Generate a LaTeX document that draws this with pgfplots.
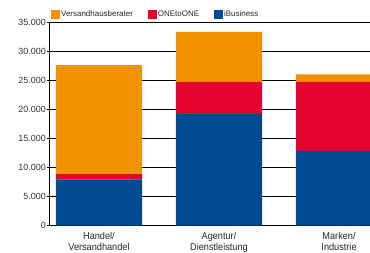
\documentclass[border=0pt]{standalone}
\usepackage{fontspec}
\setmainfont{Liberation Sans}
\newfontfamily\narrowfont{Liberation Sans}[FakeStretch=0.92]
\usepackage{pgfplots}
\pgfplotsset{compat=1.18}
\definecolor{vorange}{HTML}{F39200}
\definecolor{vred}{HTML}{E4032E}
\definecolor{vblue}{HTML}{004B91}
\begin{document}
\begin{tikzpicture}
\begin{axis}[
  scale only axis, width=320bp, height=203bp,
  ybar stacked, bar width=0.72,
  xmin=-0.408, xmax=2.258, ymin=0, ymax=35000,
  xtick={0,1,2},
  xticklabels={{Handel/\\Versandhandel},{Agentur/\\Dienstleistung},{Marken/\\Industrie}},
  xticklabel style={align=center, font=\narrowfont\fontsize{10}{10.8}\selectfont, text=black!85, inner sep=0pt, yshift=-3.5bp},
  x tick style={draw=none},
  ytick={0,5000,10000,15000,20000,25000,30000,35000},
  yticklabel style={font=\fontsize{9}{10}\selectfont, text=black!80, inner sep=1bp},
  /pgf/number format/.cd, 1000 sep={.}, assume math mode=true, /pgfplots/.cd,
  scaled y ticks=false,
  axis x line*=bottom, axis y line*=left,
  ymajorgrids, grid style={black, line width=0.8bp},
  tick align=outside, major tick length=3bp,
  y tick style={black, line width=0.8bp},
  axis line style={black, line width=1bp},
  reverse legend,
  legend style={at={(0.003,1.0626)}, anchor=north west, draw=none, fill=none,
    legend columns=-1, font=\fontsize{8}{9.6}\selectfont, inner sep=0pt,
    nodes={inner sep=1bp, text=black!85},
    /tikz/every even column/.append style={column sep=14bp}},
  sq/.style={legend image code/.code={\path[##1, draw=none] (0bp,-4.5bp) rectangle (9bp,4.5bp);}},
]
\addplot[fill=vblue, draw=none, sq] coordinates {(0,8000) (1,19300) (2,12900)};
\addplot[fill=vred, draw=none, sq] coordinates {(0,900) (1,5500) (2,11900)};
\addplot[fill=vorange, draw=none, sq] coordinates {(0,18800) (1,8600) (2,1300)};
\legend{iBusiness, ONEtoONE, Versandhausberater}
\end{axis}
\pgfresetboundingbox
\path ([xshift=-50bp,yshift=-27.3bp]current axis.south west) rectangle ([yshift=22.7bp]current axis.north east);
\end{tikzpicture}
\end{document}
